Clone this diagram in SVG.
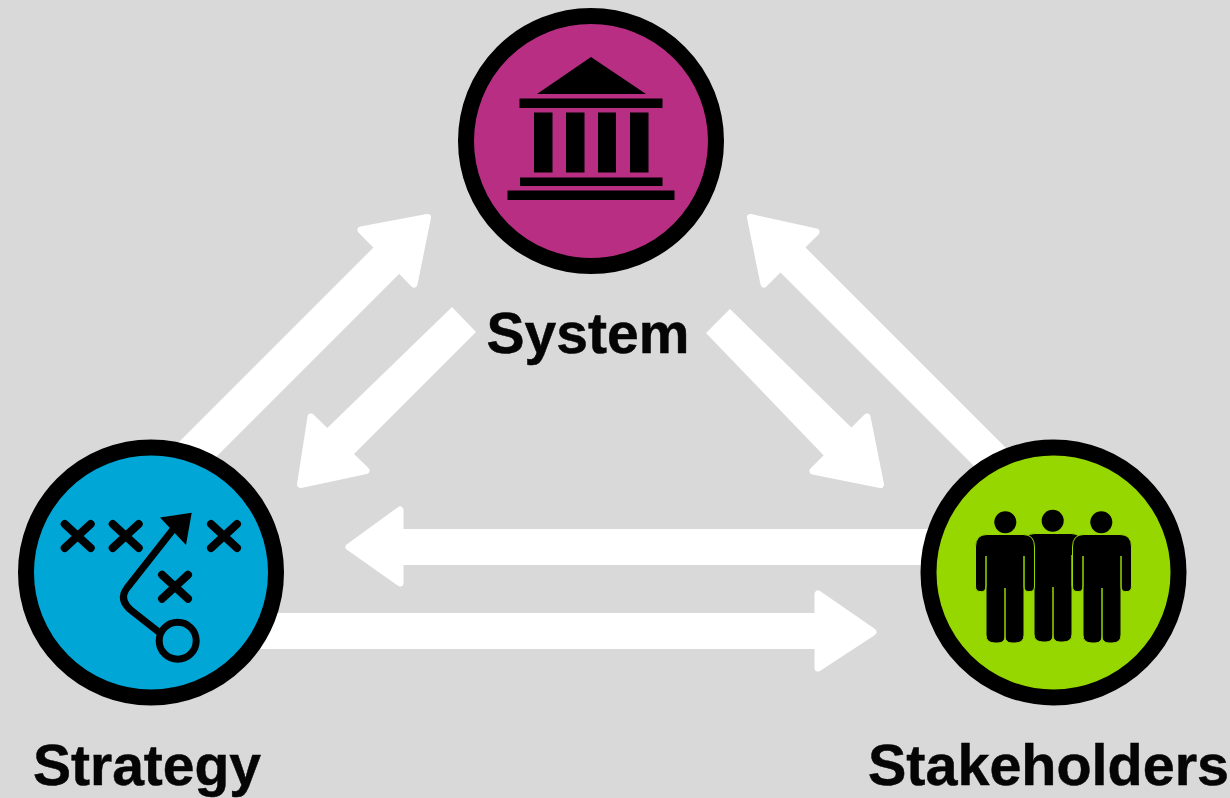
<svg xmlns="http://www.w3.org/2000/svg" width="1230" height="798" viewBox="0 0 1230 798">
<style>
.shaft{fill:#fff}
.head{fill:#fff;stroke:#fff;stroke-width:7;stroke-linejoin:round}
.disc{stroke:#000;stroke-width:16}
.label{font-family:"Liberation Sans",Arial,sans-serif;font-weight:700;font-size:57px;fill:#050505;stroke:#050505;stroke-width:.5;text-anchor:middle}
.x{fill:none;stroke:#000;stroke-width:8;stroke-linecap:round}
.person{fill:#000;stroke:#97d700;stroke-width:1}
</style>
<defs>
<path id="man" d="M-18,534.500H18Q29.500,534.500 29.500,547V586Q29.500,591.500 25,591.500H23.500Q19,591.500 19,586V556V635Q19,643 10,643H7Q0,643 0,636V588V636Q0,643 -7,643H-10Q-19,643 -19,635V556V586Q-19,591.500 -23.500,591.500H-25Q-29.500,591.500 -29.500,586V547Q-29.500,534.500 -18,534.500Z"/>
<path id="cross" d="M-13,-12L13,12M13,-12L-13,12"/>
</defs>
<rect width="1230" height="798" fill="#d9d9d9"/>
<g id="connectors">
<g id="strategy-system">
<path class="shaft" d="M153,468L380,241L406,267L179,494Z"/>
<path class="head" d="M427.500,217.500L361,230L414,284Z"/>
</g>
<g id="system-strategy">
<path class="shaft" d="M452,307L320,435L346,462L476,332Z"/>
<path class="head" d="M300.500,484.500L311,417L366,470.500Z"/>
</g>
<g id="stakeholders-system">
<path class="shaft" d="M1045,487L798,240L774,266L1021,513Z"/>
<path class="head" d="M750.500,217.500L816,232L764,284Z"/>
</g>
<g id="system-stakeholders">
<path class="shaft" d="M730,309L859,435L831,463L706,333Z"/>
<path class="head" d="M880.500,484.500L867,417L813,471Z"/>
</g>
<g id="stakeholders-strategy">
<path class="shaft" d="M395,529H940V565H395Z"/>
<path class="head" d="M349,547L400,510V583Z"/>
</g>
<g id="strategy-stakeholders">
<path class="shaft" d="M240,613H825V649H240Z"/>
<path class="head" d="M873,632L818,594V668Z"/>
</g>
</g>
<g id="system">
<circle class="disc" cx="591" cy="141" r="125" fill="#b72e82"/>
<path d="M591,57L646,94H537Z"/>
<rect x="519.500" y="98.500" width="143" height="9.500"/>
<rect x="534" y="112.500" width="18.500" height="60"/>
<rect x="566" y="112.500" width="18.500" height="60"/>
<rect x="598" y="112.500" width="18" height="60"/>
<rect x="630" y="112.500" width="18.500" height="60"/>
<rect x="520" y="177.500" width="142.500" height="8.500"/>
<rect x="507.500" y="190.500" width="167" height="9.500"/>
<text class="label" x="588" y="353">System</text>
</g>
<g id="strategy">
<circle class="disc" cx="151" cy="572.500" r="125" fill="#00a6d6"/>
<use href="#cross" class="x" x="77.700" y="536"/>
<use href="#cross" class="x" x="125.700" y="536"/>
<use href="#cross" class="x" x="224" y="536"/>
<use href="#cross" class="x" x="175" y="586.700"/>
<path d="M160,633L132,611Q118,600 127,588L175,527" fill="none" stroke="#000" stroke-width="7" stroke-linecap="round"/>
<circle cx="177.700" cy="640.700" r="18.500" fill="none" stroke="#000" stroke-width="7"/>
<path d="M191.700,512.700L160,517.500L186,545Z"/>
<text class="label" x="147" y="785">Strategy</text>
</g>
<g id="stakeholders">
<circle class="disc" cx="1053.500" cy="572.500" r="125" fill="#97d700"/>
<circle cx="1005.300" cy="522.300" r="11"/>
<circle cx="1052.700" cy="520.700" r="11"/>
<circle cx="1101.300" cy="522.300" r="11"/>
<use href="#man" class="person" x="1053" y="-1"/>
<use href="#man" class="person" x="1005"/>
<use href="#man" class="person" x="1102"/>
<text class="label" x="1048.500" y="785" style="font-size:57.500px">Stakeholders</text>
</g>
</svg>
